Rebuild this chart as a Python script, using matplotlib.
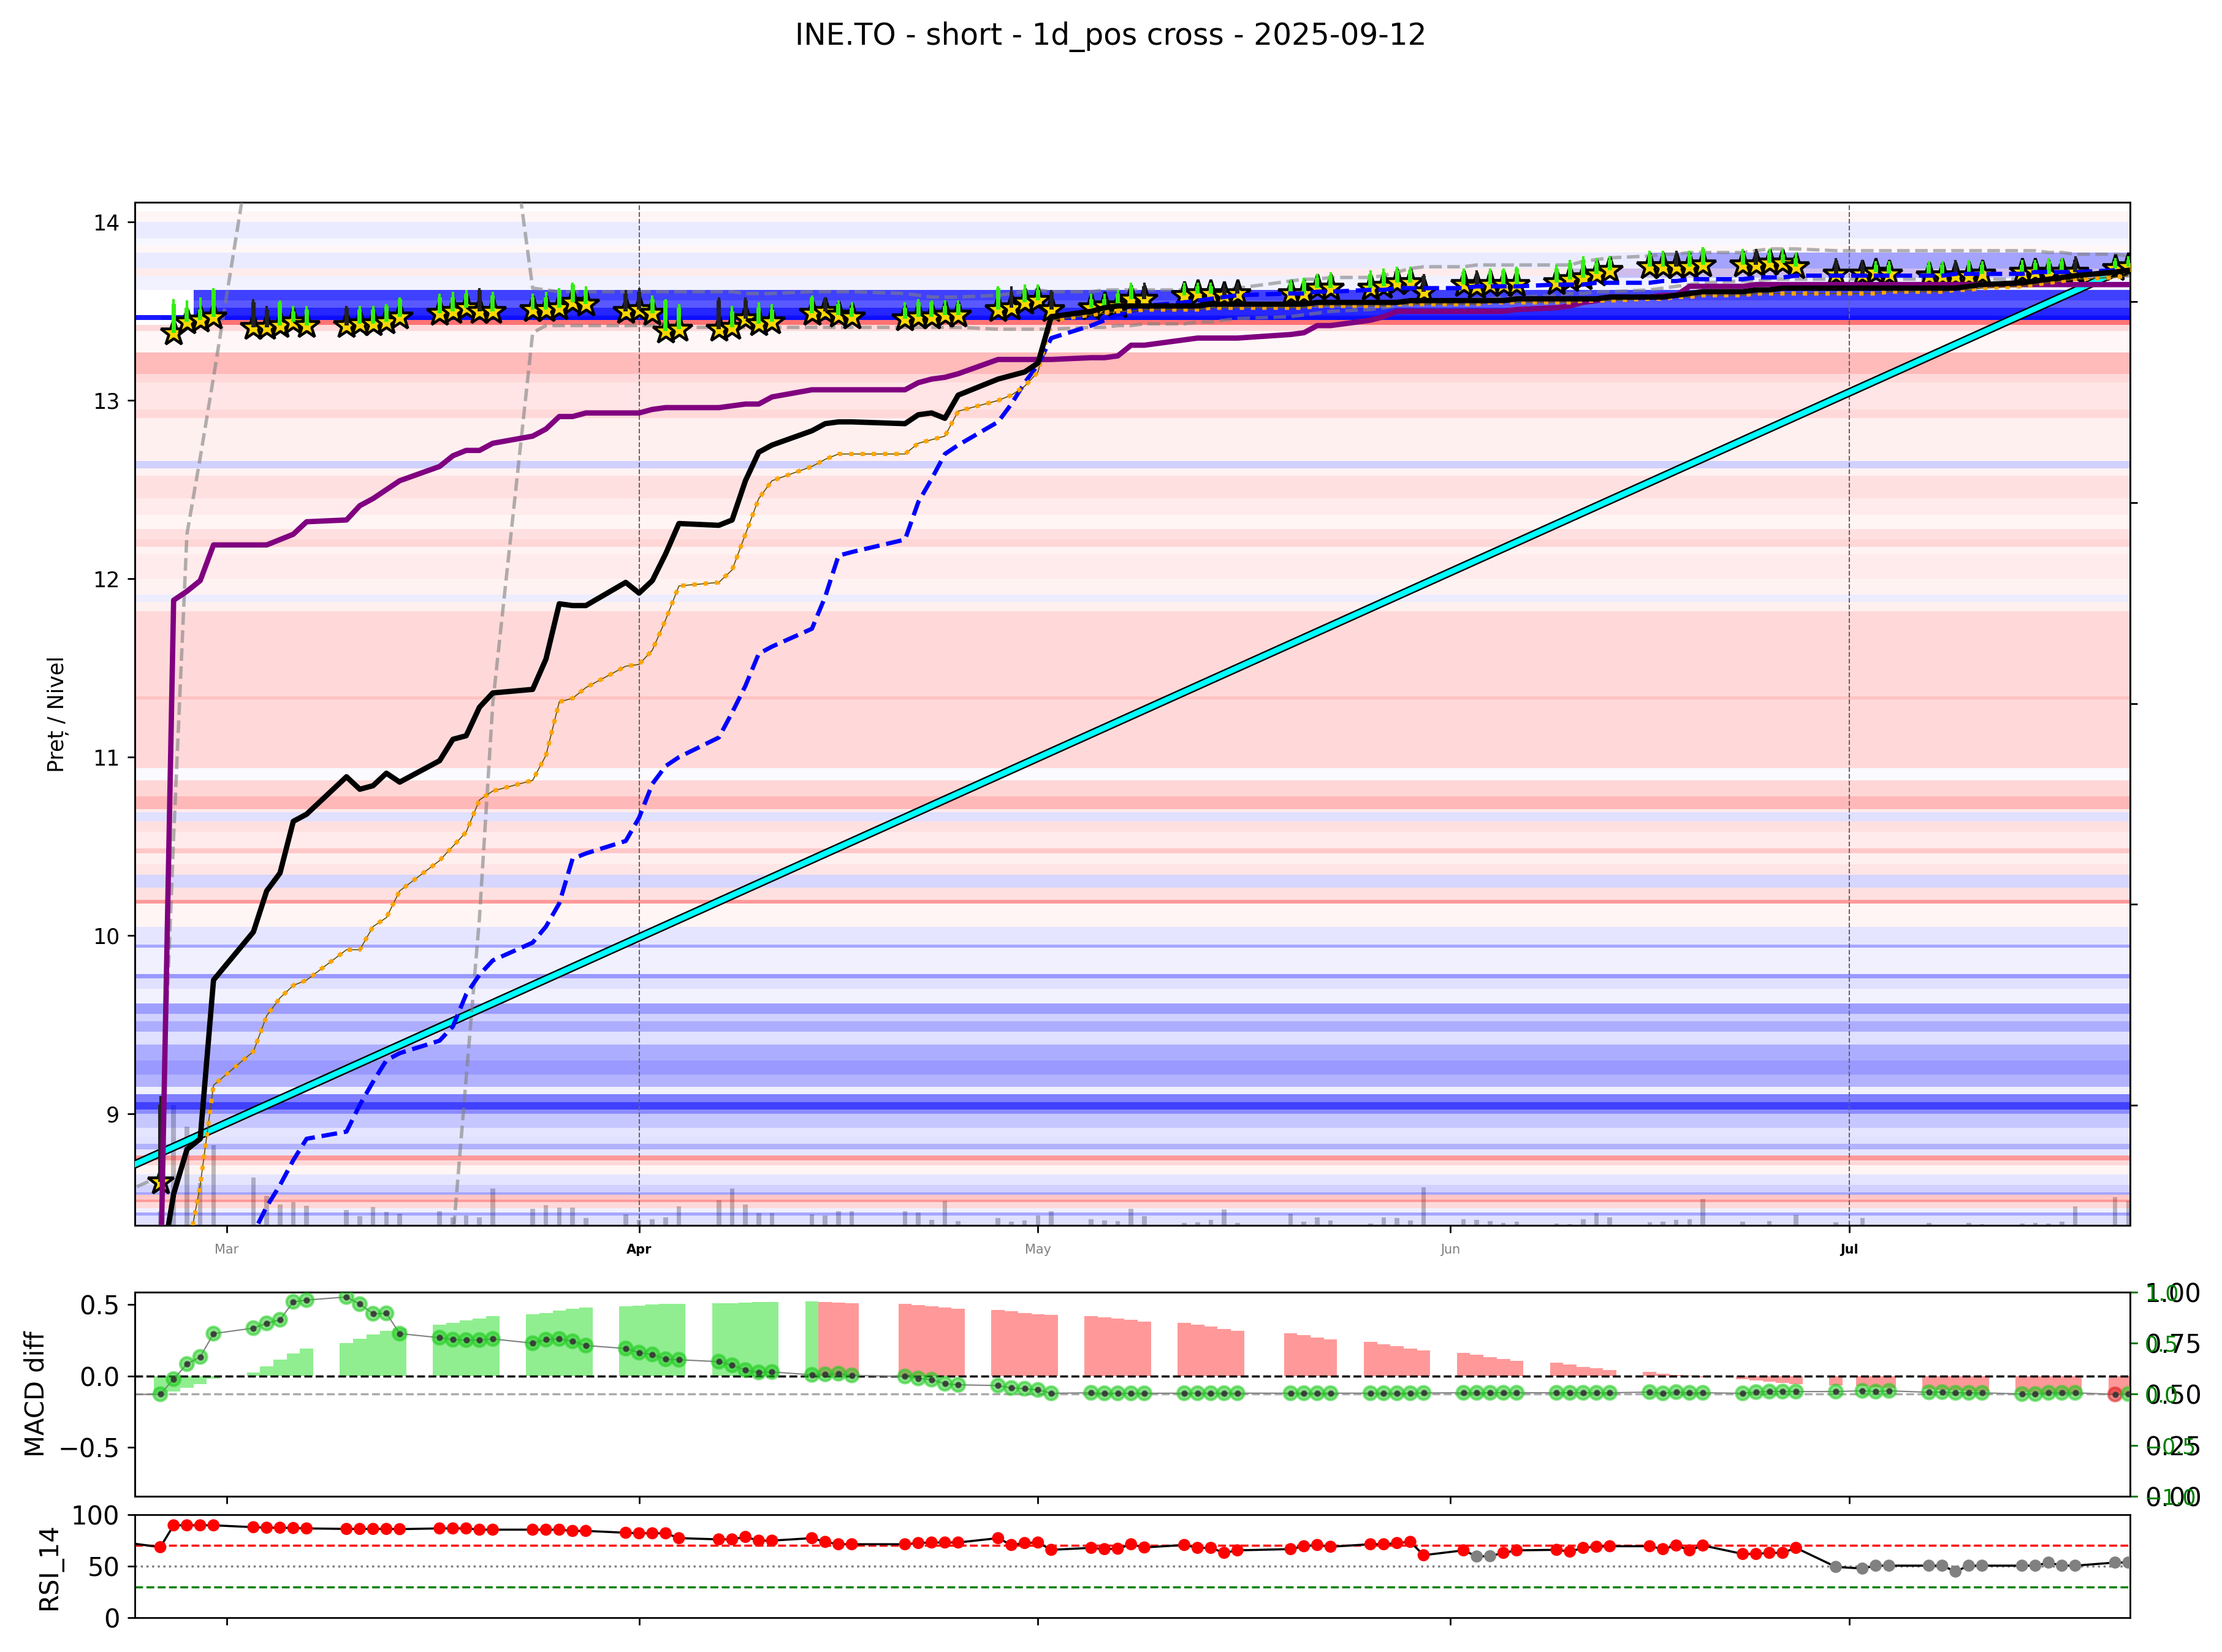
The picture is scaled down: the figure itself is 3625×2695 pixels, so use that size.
import numpy as np
import pandas as pd
import matplotlib
matplotlib.use("Agg")
import matplotlib.pyplot as plt
import matplotlib.dates as mdates
import matplotlib.patheffects as pe

plt.rcParams["font.size"] = 12

# ---------------- data ----------------
title = "INE.TO - short - 1d_pos cross - 2025-09-12"
holidays = ["2025-04-18", "2025-05-19", "2025-07-01"]
days = pd.bdate_range("2025-02-21", "2025-07-22")
days = days[~days.isin(pd.to_datetime(holidays))]

# candle colour per day (g = up, d = down), week by week
candle_dir = ("d" "dgggg" "ddggg" "dgggg" "gggdg" "ggggg" "ddggg" "dgdgg" "gdgg" "ggggg" "gdggd"
              "ggggd" "gggdd" "gggg" "ggggd" "gdggg" "ggggg" "ggdgg" "gdggg" "ddgg" "ggdgg" "ggggd" "gg")

star_px = [8.50,
           8.62, 13.38, 13.44, 13.45, 13.47,
           13.41, 13.41, 13.42, 13.44, 13.42,
           13.42, 13.43, 13.43, 13.44, 13.47,
           13.49, 13.50, 13.52, 13.50, 13.50,
           13.51, 13.51, 13.52, 13.55, 13.54,
           13.50, 13.51, 13.49, 13.39, 13.40,
           13.40, 13.41, 13.46, 13.43, 13.44,
           13.49, 13.50, 13.48, 13.47,
           13.46, 13.47, 13.47, 13.48, 13.48,
           13.51, 13.52, 13.55, 13.56, 13.51,
           13.52, 13.53, 13.53, 13.57, 13.57,
           13.59, 13.60, 13.60, 13.59, 13.60,
           13.60, 13.60, 13.63, 13.63,
           13.63, 13.64, 13.66, 13.66, 13.61,
           13.65, 13.64, 13.65, 13.65, 13.65,
           13.66, 13.68, 13.69, 13.71, 13.73,
           13.75, 13.75, 13.75, 13.75, 13.76,
           13.76, 13.76, 13.77, 13.77, 13.75,
           13.71, 13.71, 13.72, 13.71,
           13.70, 13.70, 13.70, 13.70, 13.71,
           13.72, 13.72, 13.71, 13.72, 13.72,
           13.74, 13.75]

body_top = [8.60,
            9.05, 13.54, 13.52, 13.51, 13.62,
            13.55, 13.51, 13.55, 13.50, 13.51,
            13.52, 13.51, 13.51, 13.53, 13.57,
            13.58, 13.58, 13.60, 13.62, 13.59,
            13.58, 13.58, 13.62, 13.65, 13.62,
            13.60, 13.61, 13.57, 13.56, 13.52,
            13.56, 13.50, 13.56, 13.52, 13.51,
            13.58, 13.56, 13.54, 13.52,
            13.52, 13.55, 13.55, 13.53, 13.54,
            13.63, 13.61, 13.62, 13.62, 13.61,
            13.57, 13.57, 13.60, 13.64, 13.64,
            13.64, 13.64, 13.64, 13.63, 13.64,
            13.66, 13.67, 13.69, 13.70,
            13.71, 13.72, 13.73, 13.73, 13.70,
            13.72, 13.71, 13.72, 13.73, 13.74,
            13.74, 13.77, 13.79, 13.77, 13.79,
            13.82, 13.82, 13.81, 13.82, 13.85,
            13.83, 13.83, 13.83, 13.82, 13.80,
            13.78, 13.76, 13.76, 13.76,
            13.76, 13.76, 13.76, 13.77, 13.76,
            13.76, 13.77, 13.78, 13.78, 13.79,
            13.78, 13.79]

high_px = [8.65,
           9.10, 13.57, 13.56, 13.58, 13.63,
           13.57, 13.53, 13.56, 13.53, 13.53,
           13.53, 13.53, 13.53, 13.54, 13.58,
           13.60, 13.61, 13.62, 13.63, 13.61,
           13.60, 13.61, 13.63, 13.66, 13.64,
           13.62, 13.63, 13.59, 13.57, 13.54,
           13.58, 13.53, 13.58, 13.55, 13.54,
           13.59, 13.58, 13.56, 13.55,
           13.55, 13.57, 13.56, 13.56, 13.56,
           13.64, 13.64, 13.65, 13.65, 13.62,
           13.60, 13.60, 13.62, 13.66, 13.66,
           13.66, 13.66, 13.66, 13.65, 13.66,
           13.68, 13.69, 13.71, 13.72,
           13.73, 13.74, 13.75, 13.75, 13.71,
           13.74, 13.73, 13.74, 13.74, 13.75,
           13.76, 13.79, 13.81, 13.80, 13.81,
           13.84, 13.84, 13.84, 13.84, 13.86,
           13.85, 13.85, 13.85, 13.85, 13.83,
           13.80, 13.79, 13.78, 13.78,
           13.78, 13.78, 13.79, 13.79, 13.78,
           13.79, 13.79, 13.80, 13.80, 13.81,
           13.80, 13.81]

ma_fast = [7.90,
           8.10, 8.55, 8.80, 8.86, 9.75,
           10.02, 10.25, 10.35, 10.64, 10.68,
           10.89, 10.82, 10.84, 10.91, 10.86,
           10.98, 11.10, 11.12, 11.28, 11.36,
           11.38, 11.55, 11.86, 11.85, 11.85,
           11.98, 11.92, 11.99, 12.14, 12.31,
           12.30, 12.33, 12.55, 12.71, 12.75,
           12.83, 12.87, 12.88, 12.88,
           12.87, 12.92, 12.93, 12.90, 13.03,
           13.12, 13.14, 13.16, 13.21, 13.47,
           13.50, 13.52, 13.53, 13.53, 13.53,
           13.53, 13.53, 13.54, 13.54, 13.54,
           13.54, 13.54, 13.55, 13.55,
           13.55, 13.55, 13.55, 13.56, 13.56,
           13.56, 13.56, 13.56, 13.56, 13.57,
           13.57, 13.57, 13.57, 13.57, 13.58,
           13.58, 13.58, 13.59, 13.60, 13.61,
           13.61, 13.62, 13.62, 13.63, 13.63,
           13.63, 13.63, 13.63, 13.63,
           13.63, 13.63, 13.63, 13.64, 13.65,
           13.66, 13.67, 13.68, 13.69, 13.70,
           13.72, 13.73]

ma_mid = [7.80,
          7.90, 8.00, 8.20, 8.60, 9.16,
          9.35, 9.55, 9.65, 9.72, 9.75,
          9.92, 9.92, 10.05, 10.10, 10.25,
          10.42, 10.50, 10.58, 10.76, 10.81,
          10.87, 11.01, 11.31, 11.33, 11.39,
          11.51, 11.52, 11.60, 11.77, 11.96,
          11.98, 12.05, 12.25, 12.45, 12.55,
          12.63, 12.67, 12.70, 12.70,
          12.70, 12.76, 12.78, 12.80, 12.94,
          13.00, 13.03, 13.08, 13.16, 13.45,
          13.48, 13.49, 13.50, 13.50, 13.51,
          13.51, 13.51, 13.52, 13.52, 13.52,
          13.52, 13.52, 13.53, 13.53,
          13.53, 13.53, 13.54, 13.54, 13.54,
          13.54, 13.54, 13.55, 13.55, 13.55,
          13.55, 13.55, 13.56, 13.56, 13.56,
          13.57, 13.57, 13.58, 13.58, 13.59,
          13.59, 13.60, 13.60, 13.60, 13.60,
          13.60, 13.60, 13.60, 13.61,
          13.61, 13.61, 13.62, 13.62, 13.63,
          13.64, 13.65, 13.66, 13.67, 13.68,
          13.69, 13.70]

ma_slow = [7.00,
           7.10, 7.30, 7.50, 7.70, 7.90,
           8.33, 8.48, 8.60, 8.74, 8.86,
           8.90, 9.05, 9.18, 9.30, 9.34,
           9.41, 9.49, 9.67, 9.78, 9.86,
           9.96, 10.05, 10.18, 10.43, 10.46,
           10.53, 10.66, 10.85, 10.95, 11.00,
           11.11, 11.25, 11.40, 11.58, 11.62,
           11.72, 11.90, 12.13, 12.15,
           12.22, 12.43, 12.56, 12.70, 12.75,
           12.88, 12.98, 13.10, 13.20, 13.35,
           13.42, 13.45, 13.48, 13.50, 13.53,
           13.55, 13.56, 13.57, 13.58, 13.59,
           13.60, 13.60, 13.61, 13.61,
           13.62, 13.62, 13.63, 13.63, 13.63,
           13.63, 13.64, 13.64, 13.64, 13.64,
           13.65, 13.65, 13.65, 13.66, 13.66,
           13.66, 13.67, 13.67, 13.68, 13.68,
           13.68, 13.69, 13.69, 13.69, 13.70,
           13.70, 13.70, 13.70, 13.70,
           13.70, 13.70, 13.71, 13.71, 13.71,
           13.71, 13.72, 13.72, 13.72, 13.72,
           13.73, 13.73]

ma_long = [7.50,
           8.00, 11.88, 11.93, 11.99, 12.19,
           12.19, 12.19, 12.22, 12.25, 12.32,
           12.33, 12.41, 12.45, 12.50, 12.55,
           12.63, 12.69, 12.72, 12.72, 12.76,
           12.80, 12.84, 12.91, 12.91, 12.93,
           12.93, 12.93, 12.95, 12.96, 12.96,
           12.96, 12.97, 12.98, 12.98, 13.02,
           13.06, 13.06, 13.06, 13.06,
           13.06, 13.10, 13.12, 13.13, 13.15,
           13.23, 13.23, 13.23, 13.23, 13.23,
           13.24, 13.24, 13.25, 13.31, 13.31,
           13.34, 13.35, 13.35, 13.35, 13.35,
           13.37, 13.38, 13.42, 13.42,
           13.45, 13.47, 13.50, 13.50, 13.50,
           13.50, 13.50, 13.50, 13.50, 13.51,
           13.52, 13.53, 13.55, 13.56, 13.58,
           13.58, 13.59, 13.59, 13.64, 13.64,
           13.64, 13.65, 13.65, 13.65, 13.65,
           13.65, 13.65, 13.65, 13.65,
           13.65, 13.65, 13.65, 13.65, 13.65,
           13.65, 13.65, 13.65, 13.65, 13.65,
           13.65, 13.65]

band_up = [8.55,
           8.65, 10.55, 12.25, 12.68, 13.13,
           14.52, 14.90, 15.10, 15.20, 15.25,
           15.30, 15.30, 15.30, 15.30, 15.30,
           15.30, 15.30, 15.30, 15.30, 15.29,
           13.63, 13.62, 13.61, 13.61, 13.61,
           13.61, 13.61, 13.61, 13.61, 13.61,
           13.61, 13.61, 13.60, 13.60, 13.60,
           13.61, 13.61, 13.61, 13.61,
           13.60, 13.59, 13.58, 13.58, 13.58,
           13.59, 13.60, 13.61, 13.62, 13.61,
           13.61, 13.62, 13.62, 13.62, 13.62,
           13.62, 13.62, 13.62, 13.62, 13.63,
           13.67, 13.68, 13.68, 13.69,
           13.69, 13.70, 13.72, 13.74, 13.75,
           13.75, 13.76, 13.76, 13.76, 13.76,
           13.76, 13.76, 13.78, 13.79, 13.80,
           13.81, 13.82, 13.82, 13.83, 13.83,
           13.83, 13.84, 13.85, 13.85, 13.85,
           13.84, 13.84, 13.84, 13.84,
           13.84, 13.84, 13.84, 13.84, 13.84,
           13.84, 13.84, 13.83, 13.83, 13.82,
           13.82, 13.81]

band_dn = [8.20,
           8.20, 8.00, 7.90, 7.85, 7.80,
           7.80, 7.80, 7.80, 7.80, 7.80,
           7.80, 7.80, 7.80, 7.85, 7.90,
           8.00, 8.30, 9.20, 10.10, 11.30,
           13.38, 13.42, 13.42, 13.42, 13.42,
           13.42, 13.42, 13.42, 13.41, 13.41,
           13.41, 13.41, 13.41, 13.41, 13.41,
           13.41, 13.41, 13.41, 13.41,
           13.41, 13.41, 13.41, 13.41, 13.41,
           13.40, 13.40, 13.40, 13.40, 13.40,
           13.41, 13.41, 13.42, 13.42, 13.43,
           13.43, 13.44, 13.44, 13.45, 13.46,
           13.47, 13.48, 13.49, 13.50,
           13.51, 13.52, 13.53, 13.54, 13.55,
           13.56, 13.57, 13.57, 13.58, 13.58,
           13.59, 13.60, 13.60, 13.61, 13.61,
           13.62, 13.63, 13.64, 13.65, 13.66,
           13.67, 13.67, 13.68, 13.68, 13.68,
           13.68, 13.68, 13.68, 13.68,
           13.68, 13.68, 13.68, 13.68, 13.68,
           13.68, 13.69, 13.69, 13.69, 13.70,
           13.70, 13.70]

trend_dates = ["2025-02-21", "2025-07-22"]
trend_vals = [8.68, 13.75]

volume_k = [10,
            10, 85, 70, 30, 57,
            34, 21, 15, 16.6, 14,
            11, 6.6, 13, 9.6, 8.4,
            10, 5.8, 7, 5.8, 26,
            12, 14.4, 12.7, 12.7, 5.3,
            8, 4, 4.5, 5.8, 13.5,
            18, 26, 15, 9, 9,
            8, 7, 10, 10,
            10, 9.2, 3.9, 17.3, 3.2,
            5.2, 2.6, 3.5, 7, 10,
            4.3, 3.5, 3.2, 11.8, 6.6,
            1.7, 2.2, 3.9, 11.4, 1.7,
            8.2, 2.7, 5.8, 3.5,
            1.3, 6, 5.3, 3.6, 27,
            4.3, 3.9, 3.2, 1.7, 2.7,
            1.3, 0.9, 4.3, 8.7, 6,
            2.2, 2.7, 3.9, 4.3, 18.7,
            2.7, 0.6, 3.2, 0.6, 7.5,
            2.2, 5.2, 0.6, 0.3,
            1.7, 0.6, 0.6, 1.7, 1,
            1.3, 1.7, 1.3, 2.7, 13.6,
            20, 17.6]

macd_hist = [-0.130,
             -0.120, -0.110, -0.084, -0.059, -0.017,
             0.025, 0.067, 0.113, 0.155, 0.192,
             0.230, 0.260, 0.290, 0.317, 0.332,
             0.357, 0.370, 0.390, 0.402, 0.418,
             0.433, 0.441, 0.458, 0.470, 0.478,
             0.488, 0.493, 0.498, 0.502, 0.505,
             0.508, 0.510, 0.513, 0.515, 0.518,
             0.520, 0.518, 0.513, 0.510,
             0.505, 0.497, 0.488, 0.480, 0.471,
             0.463, 0.453, 0.441, 0.433, 0.428,
             0.419, 0.411, 0.402, 0.394, 0.380,
             0.372, 0.359, 0.347, 0.330, 0.316,
             0.300, 0.286, 0.269, 0.256,
             0.239, 0.222, 0.209, 0.192, 0.178,
             0.162, 0.148, 0.131, 0.120, 0.106,
             0.093, 0.081, 0.062, 0.054, 0.042,
             0.029, 0.017, 0.007, 0.002, -0.012,
             -0.022, -0.030, -0.040, -0.047, -0.056,
             -0.064, -0.071, -0.077, -0.081,
             -0.091, -0.094, -0.099, -0.104, -0.109,
             -0.114, -0.118, -0.121, -0.125, -0.128,
             -0.131, -0.135]

macd_norm = [-0.005,
             0.000, 0.148, 0.296, 0.366, 0.594,
             0.648, 0.695, 0.730, 0.906, 0.923,
             0.953, 0.883, 0.789, 0.793, 0.594,
             0.554, 0.535, 0.531, 0.531, 0.542,
             0.500, 0.535, 0.542, 0.519, 0.477,
             0.448, 0.408, 0.390, 0.343, 0.338,
             0.319, 0.284, 0.237, 0.214, 0.218,
             0.190, 0.195, 0.202, 0.185,
             0.174, 0.155, 0.143, 0.103, 0.092,
             0.085, 0.061, 0.054, 0.042, 0.009,
             0.014, 0.009, 0.009, 0.009, 0.009,
             0.010, 0.010, 0.010, 0.010, 0.010,
             0.010, 0.010, 0.010, 0.010,
             0.010, 0.010, 0.010, 0.010, 0.012,
             0.014, 0.014, 0.014, 0.014, 0.014,
             0.014, 0.014, 0.014, 0.014, 0.014,
             0.021, 0.009, 0.021, 0.014, 0.014,
             0.009, 0.021, 0.026, 0.026, 0.026,
             0.026, 0.033, 0.026, 0.033,
             0.019, 0.021, 0.014, 0.014, 0.014,
             0.002, 0.002, 0.014, 0.014, 0.014,
             -0.002, 0.002]

rsi14 = [73.6,
         68.5, 89.6, 89.6, 89.6, 89.6,
         87.8, 87.3, 87.3, 87.0, 86.6,
         86.1, 86.1, 86.1, 86.1, 85.9,
         86.6, 86.6, 86.6, 85.4, 85.4,
         85.4, 85.4, 85.4, 84.2, 84.2,
         82.4, 81.9, 81.9, 81.9, 77.2,
         76.0, 76.0, 78.4, 74.8, 74.8,
         77.2, 73.6, 71.3, 71.3,
         71.3, 72.5, 73.0, 73.0, 73.0,
         77.2, 70.6, 72.5, 73.0, 65.9,
         67.8, 66.6, 67.0, 71.3, 68.2,
         70.6, 67.8, 67.8, 63.0, 65.4,
         66.6, 69.4, 70.6, 68.9,
         71.3, 71.3, 72.5, 73.6, 60.7,
         65.4, 59.5, 59.8, 63.0, 65.4,
         65.9, 64.2, 67.8, 68.9, 69.4,
         69.4, 66.6, 70.1, 65.4, 70.1,
         61.9, 61.9, 63.0, 63.0, 67.8,
         49.4, 47.8, 50.6, 50.6,
         50.6, 50.6, 44.9, 50.6, 50.6,
         50.6, 50.6, 53.6, 50.6, 50.6,
         53.6, 53.6]

# price-level zones: low, high, side (b = support, r = resistance), weight, first date ("" = whole window)
zone_lo = [8.37, 8.43, 8.445, 8.47, 8.505, 8.52, 8.545, 8.56, 8.60, 8.66, 8.71, 8.74, 8.765, 8.80, 8.83,
           8.87, 8.92, 9.00, 9.025, 9.065, 9.11, 9.15, 9.22, 9.30, 9.39, 9.46, 9.52, 9.56, 9.62, 9.70,
           9.76, 9.785, 9.93, 9.95, 10.05, 10.18, 10.20, 10.27, 10.34, 10.40, 10.46, 10.49, 10.58, 10.64,
           10.69, 10.71, 10.78, 10.87, 10.94, 11.325, 11.82, 11.87, 11.91, 12.00, 12.14, 12.18, 12.22,
           12.28, 12.36, 12.45, 12.58, 12.62, 12.66, 12.90, 12.95, 13.10, 13.15, 13.27, 13.39, 13.425,
           13.452, 13.452, 13.478, 13.52, 13.56, 13.62, 13.67, 13.69, 13.70, 13.74, 13.74, 13.80, 13.83,
           13.87, 13.91, 14.00, 14.03, 14.06]
zone_hi = [8.43, 8.445, 8.47, 8.505, 8.52, 8.545, 8.56, 8.60, 8.66, 8.71, 8.74, 8.765, 8.80, 8.83, 8.87,
           8.92, 9.00, 9.025, 9.065, 9.11, 9.15, 9.22, 9.30, 9.39, 9.46, 9.52, 9.56, 9.62, 9.70, 9.76,
           9.785, 9.93, 9.95, 10.05, 10.18, 10.20, 10.27, 10.34, 10.40, 10.46, 10.49, 10.58, 10.64, 10.69,
           10.71, 10.78, 10.87, 10.94, 11.82, 11.34, 11.87, 11.91, 12.00, 12.14, 12.18, 12.22, 12.28,
           12.36, 12.45, 12.58, 12.62, 12.66, 12.90, 12.95, 13.10, 13.15, 13.27, 13.39, 13.425, 13.452,
           13.478, 13.472, 13.52, 13.56, 13.62, 13.67, 13.70, 13.74, 13.74, 13.80, 13.83, 13.83, 13.87,
           13.91, 14.00, 14.03, 14.06, 14.12]
zone_side = ("bbbrrrbbbrrrbbb" "bbbbbbbbbbbbbbb" "bbbbrrrbrrrrrb" "rrrbrrrbrrrrr" "rrrrbrrrrrrrr"
             "bbbbbbbbrbbbrbbrr")
zone_w = [0.12, 0.35, 0.06, 0.15, 0.40, 0.22, 0.35, 0.18, 0.10, 0.04, 0.15, 0.40, 0.10, 0.30, 0.12,
          0.10, 0.22, 0.45, 0.75, 0.50, 0.06, 0.30, 0.40, 0.32, 0.12, 0.32, 0.18, 0.38, 0.05, 0.12,
          0.40, 0.06, 0.35, 0.10, 0.04, 0.40, 0.12, 0.16, 0.10, 0.06, 0.22, 0.08, 0.12, 0.12,
          0.08, 0.28, 0.16, 0.02, 0.15, 0.10, 0.06, 0.07, 0.05, 0.08, 0.05, 0.16, 0.12,
          0.04, 0.08, 0.12, 0.05, 0.18, 0.06, 0.15, 0.10, 0.15, 0.27, 0.03, 0.15, 0.55,
          0.90, 0.45, 0.85, 0.65, 0.75, 0.05, 0.06, 0.20, 0.08, 0.08, 0.30, 0.08, 0.03,
          0.03, 0.08, 0.03, 0.04, 0.10]
zone_from = [""] * 69 + ["2025-02-28 12:00", "", "2025-02-24", "2025-02-26 12:00", "2025-02-26 12:00",
                         "2025-02-26 12:00", "", "", "2025-06-10", "", "", "2025-06-16", "", "", "", "", "", "", ""]

# ---------------- plot ----------------
x = mdates.date2num(days)
x_left = mdates.date2num(pd.Timestamp("2025-02-22 01:40"))
x_right = mdates.date2num(pd.Timestamp("2025-07-22 02:30"))

fig = plt.figure(figsize=(14.5, 10.78), dpi=250)
ax = fig.add_axes([0.0606, 0.2581, 0.8979, 0.6193])
ax_m = fig.add_axes([0.0606, 0.0943, 0.8979, 0.1235], sharex=ax)
ax_r = fig.add_axes([0.0606, 0.0206, 0.8979, 0.0626], sharex=ax)
fig.suptitle(title, fontsize=14, y=0.987)

# price zones
for lo, hi, side, w, start in zip(zone_lo, zone_hi, zone_side, zone_w, zone_from):
    xmin = 0.0
    if start:
        xmin = (mdates.date2num(pd.Timestamp(start)) - x_left) / (x_right - x_left)
    ax.axhspan(lo, hi, xmin=xmin, xmax=1.0, color="blue" if side == "b" else "red",
               alpha=w, lw=0, zorder=0)

# volume on a hidden twin
ax_v = ax.twinx()
ax_v.bar(x, volume_k, width=0.35, color="gray", alpha=0.5, zorder=1)
ax_v.set_ylim(0, 722)
ax_v.set_yticks(np.arange(85, 722, 141.75))
ax_v.set_yticklabels([])
ax.set_zorder(ax_v.get_zorder() + 1)
ax.patch.set_visible(False)

# trend line and envelopes
tx = mdates.date2num(pd.to_datetime(trend_dates))
ax.plot(tx, trend_vals, color="cyan", lw=2.6, zorder=3,
        path_effects=[pe.Stroke(linewidth=4.0, foreground="black"), pe.Normal()])
ax.plot(x, band_up, color="gray", ls="--", lw=1.6, alpha=0.6, zorder=3)
ax.plot(x, band_dn, color="gray", ls="--", lw=1.6, alpha=0.6, zorder=3)

# candles + stars
lo = np.array(star_px)
top = np.array(body_top)
up = np.array([c == "g" for c in candle_dir])
ccol = np.where(up, "#33ee11", "#222222")
ax.plot(x, lo, ls="none", marker="*", ms=13, mfc="#FFD700", mec="black", mew=1.3, zorder=4)
ax.vlines(x, lo, high_px, colors=ccol, lw=1.2, zorder=5)
ax.bar(x, top - lo, bottom=lo, width=0.32, color=ccol, zorder=5)

# moving averages
ax.plot(x, ma_long, color="purple", lw=2.5, zorder=6)
ax.plot(x, ma_slow, color="blue", ls="--", lw=2.0, zorder=6)
ax.plot(x, ma_mid, color="#6b5500", lw=0.5, zorder=6)
ax.plot(x, ma_mid, color="orange", ls=":", lw=2.0, zorder=6)
ax.plot(x, ma_fast, color="black", lw=2.5, zorder=6)

months = pd.date_range("2025-03-01", "2025-07-01", freq="MS")
for m in months:
    if m.month in (1, 4, 7, 10):
        ax.axvline(mdates.date2num(m), color="#666666", ls="--", lw=0.6, zorder=2)

ax.set_xlim(x_left, x_right)
ax.set_ylim(8.373, 14.11)
ax.set_ylabel("Preț / Nivel", fontsize=10, labelpad=11)
ax.tick_params(axis="y", labelsize=10)
ax.set_xticks(mdates.date2num(months))
ax.set_xticklabels([m.strftime("%b") for m in months])
ax.tick_params(axis="x", labelsize=6, pad=5)
for lab, m in zip(ax.get_xticklabels(), months):
    if m.month in (1, 4, 7, 10):
        lab.set_fontweight("bold")
        lab.set_color("black")
    else:
        lab.set_color("gray")

# MACD panel
hist = np.array(macd_hist)
rising = np.diff(hist, prepend=hist[0]) >= 0
ax_m.bar(x, hist, width=1.0, color=np.where(rising, "lightgreen", "#ff9999"), zorder=1)
ax_m.axhline(0, color="black", ls="--", lw=1.0, zorder=3)
ax_m.set_ylim(-0.84, 0.585)
ax_m.set_ylabel("MACD diff")
ax_m.tick_params(axis="x", labelbottom=False)

# empty 0..1 twin (black labels), then normalised line twin (green labels) drawn over it
ax_b = ax_m.twinx()
ax_b.set_ylim(0, 1)
ax_b.set_yticks([0.0, 0.25, 0.5, 0.75, 1.0])
ax_b.tick_params(axis="y", labelsize=12)

ax_g = ax_m.twinx()
norm = np.array(macd_norm)
dcol = np.where(norm >= 0, "#22cc22", "#dd2222")
ax_g.axhline(0, color="#aaaaaa", ls="--", lw=1.0, zorder=1)
ax_g.plot(x, norm, color="gray", lw=0.6, zorder=2)
ax_g.scatter(x, norm, s=40, c=dcol, alpha=0.55, edgecolors=dcol, linewidths=1.2, zorder=3)
ax_g.scatter(x, norm, s=4, c="#333333", alpha=0.8, zorder=4)
ax_g.set_ylim(-1, 1)
ax_g.set_yticks([-1.0, -0.5, 0.0, 0.5, 1.0])
ax_g.tick_params(axis="y", colors="green", labelsize=10)

# RSI panel
rsi = np.array(rsi14)
ax_r.axhline(70, color="red", ls="--", lw=1.0)
ax_r.axhline(50, color="gray", ls=":", lw=1.0)
ax_r.axhline(30, color="green", ls="--", lw=1.0)
ax_r.plot(x, rsi, color="black", lw=1.0, zorder=2)
ax_r.scatter(x, rsi, s=22, c=np.where(rsi > 60, "red", "gray"), zorder=3)
ax_r.set_ylim(0, 100)
ax_r.set_yticks([0, 50, 100])
ax_r.set_ylabel("RSI_14")
ax_r.tick_params(axis="x", labelbottom=False)

fig.align_ylabels([ax_m, ax_r])
fig.savefig("out.png", dpi=250)
